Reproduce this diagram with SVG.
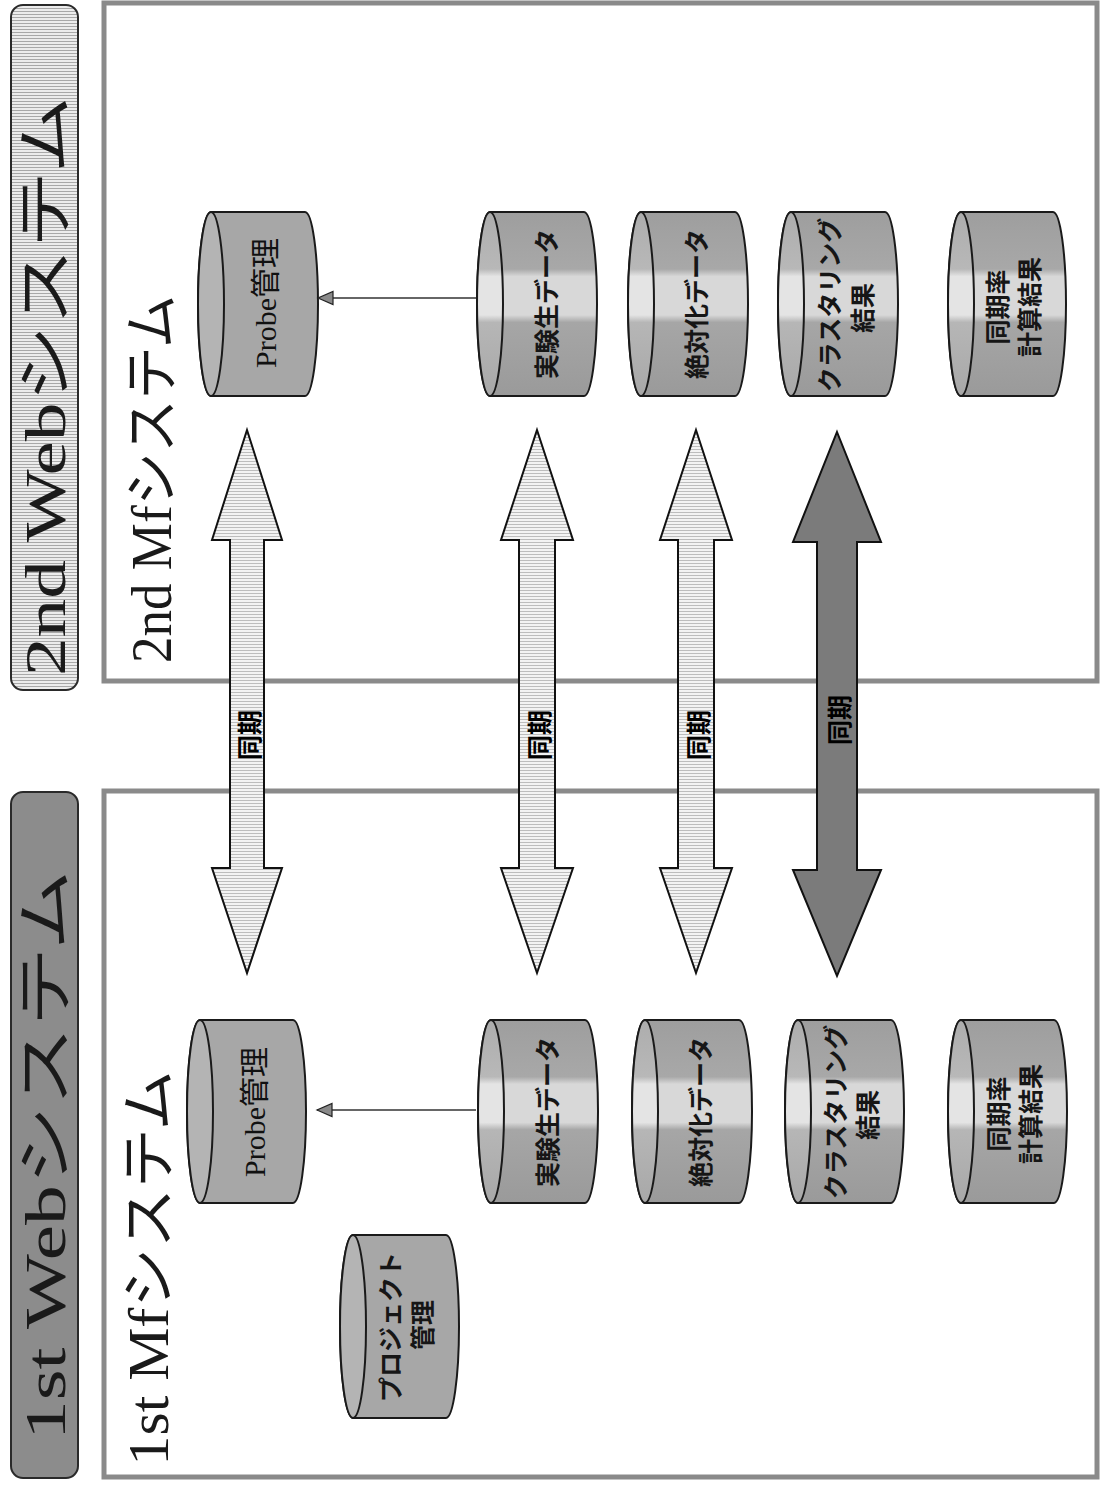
<svg xmlns="http://www.w3.org/2000/svg" width="1104" height="1486" viewBox="0 0 1104 1486">
<defs>
<pattern id="hatch" width="4" height="3" patternUnits="userSpaceOnUse"><rect width="4" height="3" fill="#f3f3f3"/><rect y="2" width="4" height="1" fill="#bdbdbd"/></pattern>
<pattern id="hatchB" width="4" height="3" patternUnits="userSpaceOnUse"><rect width="4" height="3" fill="#ececec"/><rect y="2" width="4" height="1" fill="#a8a8a8"/></pattern>
<linearGradient id="band" x1="0" y1="0" x2="0" y2="1">
<stop offset="0" stop-color="#9e9e9e"/><stop offset="0.31" stop-color="#a8a8a8"/><stop offset="0.35" stop-color="#d8d8d8"/><stop offset="0.56" stop-color="#d8d8d8"/><stop offset="0.6" stop-color="#a6a6a6"/><stop offset="1" stop-color="#9a9a9a"/>
</linearGradient>
<linearGradient id="bandFace" x1="0" y1="0" x2="0" y2="1">
<stop offset="0" stop-color="#adadad"/><stop offset="0.31" stop-color="#b8b8b8"/><stop offset="0.35" stop-color="#e4e4e4"/><stop offset="0.56" stop-color="#e4e4e4"/><stop offset="0.6" stop-color="#b6b6b6"/><stop offset="1" stop-color="#a8a8a8"/>
</linearGradient>
<marker id="tri" markerWidth="20" markerHeight="16" refX="17" refY="8" orient="auto" markerUnits="userSpaceOnUse"><path d="M17,8 L2,1.5 L2,14.5 Z" fill="#8a8a8a" stroke="#222" stroke-width="1.2"/></marker>
<style>
.frame{fill:none;stroke:#8a8a8a;stroke-width:5}
.body{fill:#a7a7a7;stroke:#1a1a1a;stroke-width:2}
.face{fill:#b4b4b4;stroke:#1a1a1a;stroke-width:2}
.dbody{fill:url(#band);stroke:#1a1a1a;stroke-width:2}
.dface{fill:url(#bandFace);stroke:#1a1a1a;stroke-width:2}
.arrL{fill:url(#hatch);stroke:#111;stroke-width:2;stroke-linejoin:miter}
.arrD{fill:#7b7b7b;stroke:#111;stroke-width:2}
.conn{stroke:#333;stroke-width:1.6;fill:none}
.big{font-family:"Liberation Serif","Noto Sans CJK JP",serif;fill:#1a1a1a;text-anchor:middle}
.cyl{font-family:"Noto Sans CJK JP",sans-serif;font-size:25px;font-weight:bold;fill:#161616;text-anchor:middle;dominant-baseline:central}
.prb{font-family:"Liberation Serif","Noto Sans CJK JP",serif;font-size:30px;fill:#111;text-anchor:middle;dominant-baseline:central}
.sync{font-family:"Noto Sans CJK JP",sans-serif;font-size:25px;font-weight:bold;fill:#000;text-anchor:middle;dominant-baseline:central}
</style>
</defs>
<rect width="1104" height="1486" fill="#ffffff"/>

<g id="banner-2nd-web">
<rect x="11" y="5" width="67" height="685" rx="12" fill="url(#hatchB)" stroke="#2a2a2a" stroke-width="2"/>
<text class="big" font-size="57" transform="translate(65,386) rotate(-90)" textLength="580" lengthAdjust="spacingAndGlyphs">2nd Webシステム</text>
</g>
<g id="banner-1st-web">
<rect x="11" y="792" width="67" height="686" rx="12" fill="#8c8c8c" stroke="#2a2a2a" stroke-width="2"/>
<text class="big" font-size="57" transform="translate(65,1155) rotate(-90)" textLength="570" lengthAdjust="spacingAndGlyphs">1st Webシステム</text>
</g>

<g id="frame-2nd-mf">
<rect class="frame" x="104" y="3" width="993" height="678"/>
<text class="big" font-size="56" transform="translate(171,479) rotate(-90)" textLength="368" lengthAdjust="spacingAndGlyphs">2nd Mfシステム</text>
</g>
<g id="frame-1st-mf">
<rect class="frame" x="104" y="791" width="993" height="686"/>
<text class="big" font-size="56" transform="translate(168,1268) rotate(-90)" textLength="395" lengthAdjust="spacingAndGlyphs">1st Mfシステム</text>
</g>

<g id="probe-2nd">
<path class="body" d="M211,212 H305 A13,92 0 0 1 305,396 H211 A13,92 0 0 1 211,212 Z"/>
<ellipse class="face" cx="211" cy="304" rx="13" ry="92"/>
<text class="prb" transform="translate(265,303) rotate(-90)">Probe管理</text>
</g>
<g id="raw-2nd">
<path class="dbody" d="M490,212 H584 A13,92 0 0 1 584,396 H490 A13,92 0 0 1 490,212 Z"/>
<ellipse class="dface" cx="490" cy="304" rx="13" ry="92"/>
<text class="cyl" transform="translate(545,304) rotate(-90)">実験生データ</text>
</g>
<g id="abs-2nd">
<path class="dbody" d="M641,212 H735 A13,92 0 0 1 735,396 H641 A13,92 0 0 1 641,212 Z"/>
<ellipse class="dface" cx="641" cy="304" rx="13" ry="92"/>
<text class="cyl" transform="translate(695,304) rotate(-90)">絶対化データ</text>
</g>
<g id="cluster-2nd">
<path class="dbody" d="M791,212 H885 A13,92 0 0 1 885,396 H791 A13,92 0 0 1 791,212 Z"/>
<ellipse class="dface" cx="791" cy="304" rx="13" ry="92"/>
<text class="cyl" font-size="23" transform="translate(828,305) rotate(-90)">クラスタリング</text>
<text class="cyl" transform="translate(861,308) rotate(-90)">結果</text>
</g>
<g id="syncrate-2nd">
<path class="dbody" d="M961,212 H1053 A13,92 0 0 1 1053,396 H961 A13,92 0 0 1 961,212 Z"/>
<ellipse class="dface" cx="961" cy="304" rx="13" ry="92"/>
<text class="cyl" transform="translate(996,307) rotate(-90)">同期率</text>
<text class="cyl" transform="translate(1028,307) rotate(-90)">計算結果</text>
</g>

<g id="probe-1st">
<path class="body" d="M200,1020 H293 A13,91.5 0 0 1 293,1203 H200 A13,91.5 0 0 1 200,1020 Z"/>
<ellipse class="face" cx="200" cy="1111.5" rx="13" ry="91.5"/>
<text class="prb" transform="translate(254,1112) rotate(-90)">Probe管理</text>
</g>
<g id="project-1st">
<path class="body" d="M353,1235 H446 A13,91.5 0 0 1 446,1418 H353 A13,91.5 0 0 1 353,1235 Z"/>
<ellipse class="face" cx="353" cy="1326.5" rx="13" ry="91.5"/>
<text class="cyl" font-size="22" transform="translate(389,1327) rotate(-90)">プロジェクト</text>
<text class="cyl" transform="translate(421,1325) rotate(-90)">管理</text>
</g>
<g id="raw-1st">
<path class="dbody" d="M491,1020 H585 A13,91.5 0 0 1 585,1203 H491 A13,91.5 0 0 1 491,1020 Z"/>
<ellipse class="dface" cx="491" cy="1111.5" rx="13" ry="91.5"/>
<text class="cyl" transform="translate(546,1112) rotate(-90)">実験生データ</text>
</g>
<g id="abs-1st">
<path class="dbody" d="M645,1020 H739 A13,91.5 0 0 1 739,1203 H645 A13,91.5 0 0 1 645,1020 Z"/>
<ellipse class="dface" cx="645" cy="1111.5" rx="13" ry="91.5"/>
<text class="cyl" transform="translate(699,1112) rotate(-90)">絶対化データ</text>
</g>
<g id="cluster-1st">
<path class="dbody" d="M798,1020 H891 A13,91.5 0 0 1 891,1203 H798 A13,91.5 0 0 1 798,1020 Z"/>
<ellipse class="dface" cx="798" cy="1111.5" rx="13" ry="91.5"/>
<text class="cyl" font-size="23" transform="translate(834,1112) rotate(-90)">クラスタリング</text>
<text class="cyl" transform="translate(866,1115) rotate(-90)">結果</text>
</g>
<g id="syncrate-1st">
<path class="dbody" d="M961,1020 H1054 A13,91.5 0 0 1 1054,1203 H961 A13,91.5 0 0 1 961,1020 Z"/>
<ellipse class="dface" cx="961" cy="1111.5" rx="13" ry="91.5"/>
<text class="cyl" transform="translate(997,1114) rotate(-90)">同期率</text>
<text class="cyl" transform="translate(1029,1114) rotate(-90)">計算結果</text>
</g>

<g id="connectors">
<line class="conn" x1="476" y1="298" x2="318" y2="298" marker-end="url(#tri)"/>
<line class="conn" x1="476" y1="1110" x2="317" y2="1110" marker-end="url(#tri)"/>
<g id="sync-probe">
<path class="arrL" d="M247,430 L282,540 L264,540 L264,868 L282,868 L247,973 L212,868 L230,868 L230,540 L212,540 Z"/>
<text class="sync" transform="translate(248,735) rotate(-90)">同期</text>
</g>
<g id="sync-raw">
<path class="arrL" d="M537,430 L573,540 L555,540 L555,868 L573,868 L537,973 L501,868 L519,868 L519,540 L501,540 Z"/>
<text class="sync" transform="translate(538,735) rotate(-90)">同期</text>
</g>
<g id="sync-abs">
<path class="arrL" d="M696,430 L732,540 L714,540 L714,868 L732,868 L696,973 L660,868 L678,868 L678,540 L660,540 Z"/>
<text class="sync" transform="translate(697,735) rotate(-90)">同期</text>
</g>
<g id="sync-cluster">
<path class="arrD" d="M837,432 L881,542 L857,542 L857,870 L881,870 L837,976 L793,870 L817,870 L817,542 L793,542 Z"/>
<text class="sync" transform="translate(838,720) rotate(-90)">同期</text>
</g>
</g>
</svg>
